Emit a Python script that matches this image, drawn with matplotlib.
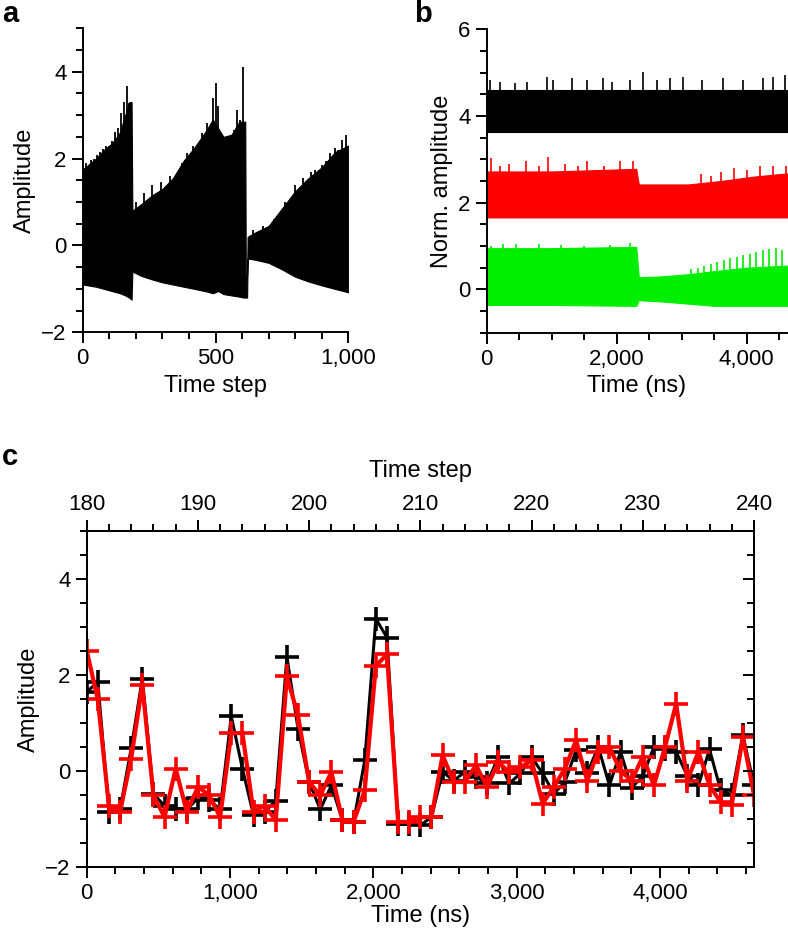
import numpy as np
import matplotlib
matplotlib.use('Agg')
import matplotlib.pyplot as plt
from matplotlib.ticker import MultipleLocator, FuncFormatter

plt.rcParams['font.family'] = ['Liberation Sans', 'DejaVu Sans']
plt.rcParams['font.size'] = 16

# ---- panel a: envelope of the time-step signal
a_steps = [0, 20, 50, 80, 110, 140, 160, 175, 184,
           187, 220, 260, 300, 340, 380, 420, 460, 490, 510, 530, 560, 590, 605, 612,
           614, 619,
           621, 650, 700, 750, 800, 850, 900, 950, 1000]
a_upper = [1.75, 1.85, 2.0, 2.2, 2.35, 2.6, 3.0, 3.3, 3.3,
           0.8, 0.95, 1.15, 1.3, 1.55, 1.95, 2.25, 2.6, 2.9, 2.7, 2.5, 2.55, 2.85, 2.85, 2.85,
           -0.7, -0.7,
           0.2, 0.3, 0.45, 0.85, 1.25, 1.55, 1.8, 2.15, 2.3]
a_lower = [-0.9, -0.92, -0.95, -1.0, -1.05, -1.1, -1.15, -1.2, -1.25,
           -0.6, -0.7, -0.78, -0.85, -0.9, -0.95, -1.0, -1.05, -1.1, -1.05, -1.12, -1.15, -1.18, -1.2, -1.2,
           -1.2, -1.2,
           -0.3, -0.33, -0.4, -0.55, -0.72, -0.83, -0.92, -1.0, -1.08]
a_spike_steps = [0, 12, 30, 42, 53, 66, 78, 88, 100, 112, 122, 133, 143, 155, 166, 176, 185,
                 200, 230, 262, 295, 330, 354, 372, 391, 417, 448, 467, 492, 502, 511, 540, 570, 582, 592, 605,
                 640, 680, 720, 760, 800, 830, 860, 875, 900, 915, 931, 950, 962, 975, 991, 1000]
a_spike_vals = [1.78, 1.9, 1.97, 2.0, 2.08, 2.15, 2.22, 2.28, 2.3, 2.4, 2.62, 2.7, 3.04, 3.3, 3.67, 3.27, 1.43,
                1.0, 1.2, 1.4, 1.45, 1.6, 1.66, 1.9, 2.12, 2.28, 2.58, 2.81, 3.39, 3.73, 3.2, 2.45, 2.65, 3.12, 2.89, 4.11,
                0.35, 0.45, 0.6, 1.0, 1.4, 1.55, 1.7, 1.74, 1.85, 1.95, 2.12, 2.24, 2.2, 2.43, 2.54, 2.28]

# ---- panel b: normalised amplitudes (envelopes, ns)
b_black_t = [0, 4650]
b_black_up = [4.6, 4.6]
b_black_lo = [3.62, 3.62]
b_black_spike_t = [51, 205, 436, 615, 923, 1025, 1307, 1538, 1794, 1923, 2205, 2410, 2615,
                   2820, 3025, 3307, 3640, 3948, 4256, 4410, 4590]
b_black_spike_v = [4.83, 4.79, 4.75, 4.79, 4.91, 4.83, 4.87, 4.83, 4.87, 4.79, 4.83, 5.02, 4.83,
                   4.87, 4.91, 4.83, 4.87, 4.83, 4.87, 4.91, 4.95]

b_red_t = [0, 1000, 2300, 2340, 3100, 3600, 4100, 4650]
b_red_up = [2.72, 2.72, 2.78, 2.42, 2.42, 2.5, 2.6, 2.68]
b_red_lo = [1.66, 1.66, 1.66, 1.66, 1.66, 1.66, 1.66, 1.66]
b_red_spike_t = [60, 200, 350, 600, 800, 950, 1200, 1400, 1550, 1800, 2050, 2250,
                 3300, 3450, 3600, 3800, 4000, 4200, 4400, 4600]
b_red_spike_v = [3.02, 2.85, 2.9, 2.95, 2.85, 3.05, 2.9, 2.85, 2.95, 2.85, 2.95, 2.95,
                 2.65, 2.62, 2.7, 2.8, 2.75, 2.85, 2.85, 2.85]

b_green_t = [0, 1000, 2300, 2340, 2700, 3100, 3500, 4000, 4650]
b_green_up = [0.95, 0.95, 0.98, 0.28, 0.3, 0.35, 0.42, 0.5, 0.55]
b_green_lo = [-0.36, -0.36, -0.38, -0.25, -0.28, -0.33, -0.38, -0.38, -0.38]
b_green_spike_t = [60, 250, 450, 800, 1150, 1500, 1900, 2200, 3150, 3250, 3350, 3450, 3550, 3650, 3750,
                   3850, 3950, 4050, 4150, 4250, 4350, 4450, 4550]
b_green_spike_v = [1.0, 1.05, 1.05, 1.05, 1.02, 1.0, 1.02, 1.07, 0.48, 0.5, 0.55, 0.58, 0.62, 0.68, 0.72,
                   0.75, 0.8, 0.82, 0.86, 0.9, 0.93, 0.95, 0.9]

# ---- panel c: zoom on time steps 180-240
c_steps = np.arange(180, 241)
ns_per_step = 77.6
c_black = [1.65, 1.85, -0.85, -0.8, 0.47, 1.92, -0.47, -0.73, -0.8, -0.8,
           -0.57, -0.6, -0.8, 1.14, 0.05, -0.92, -0.85, -0.62, 2.38, 0.88,
           -0.23, -0.8, -0.3, -1.03, -1.06, 0.22, 3.17, 2.78, -1.1, -1.1,
           -1.13, -0.96, -0.02, -0.2, -0.02, -0.12, -0.26, 0.29, -0.26, -0.05,
           0.29, -0.05, -0.47, -0.23, 0.43, -0.05, 0.5, -0.3, 0.4, -0.35,
           -0.1, 0.5, 0.45, 0.4, -0.1, -0.3, 0.45, -0.4, -0.5, 0.75, -0.3]
c_red = [2.51, 1.49, -0.73, -0.85, 0.26, 1.79, -0.51, -0.96, 0.05, -0.85,
         -0.33, -0.5, -0.96, 0.79, 0.79, -0.85, -0.72, -1.03, 1.97, 1.16,
         -0.23, -0.51, -0.02, -1.03, -1.06, -0.4, 2.19, 2.43, -1.06, -1.06,
         -0.96, -0.96, 0.33, -0.23, -0.23, 0.12, -0.33, 0.18, -0.02, 0.08,
         0.22, -0.68, -0.33, 0.05, 0.64, -0.2, 0.4, 0.5, 0.0, -0.2,
         0.3, -0.3, 0.5, 1.4, -0.2, 0.4, -0.3, -0.65, -0.7, 0.7, -0.5]

W, H = 788, 949
fig = plt.figure(figsize=(W / 100, H / 100), dpi=100)


def box(l, t, r, b):
    return [l / W, 1 - b / H, (r - l) / W, (b - t) / H]


def style(ax, direction='out'):
    for s in ax.spines.values():
        s.set_linewidth(1.4)
    ax.tick_params(which='major', length=8, width=1.4, direction=direction, labelsize=16)
    ax.tick_params(which='minor', length=5, width=1.4, direction=direction)


comma = FuncFormatter(lambda v, p: '{:,.0f}'.format(v).replace('-', '\u2212'))

# panel a
ax_a = fig.add_axes(box(82.7, 28.3, 348.3, 332.3))
ax_a.fill_between(a_steps, a_lower, a_upper, color='black', lw=0.8)
ax_a.vlines(a_spike_steps, np.interp(a_spike_steps, a_steps, a_upper) - 0.3, a_spike_vals,
            color='black', lw=1.3)
ax_a.set_xlim(0, 1000)
ax_a.set_ylim(-2, 5)
ax_a.spines['top'].set_visible(False)
ax_a.spines['right'].set_visible(False)
ax_a.xaxis.set_major_locator(MultipleLocator(500))
ax_a.xaxis.set_minor_locator(MultipleLocator(100))
ax_a.yaxis.set_major_locator(MultipleLocator(2))
ax_a.yaxis.set_minor_locator(MultipleLocator(0.5))
ax_a.xaxis.set_major_formatter(comma)
ax_a.yaxis.set_major_formatter(comma)
style(ax_a)
ax_a.set_xlabel('Time step', fontsize=17)
ax_a.set_ylabel('Amplitude', fontsize=17)

# panel b
ax_b = fig.add_axes(box(486.7, 29.3, 787.0, 332.7))
for t, up, lo, st, sv, col in [
        (b_black_t, b_black_up, b_black_lo, b_black_spike_t, b_black_spike_v, 'black'),
        (b_red_t, b_red_up, b_red_lo, b_red_spike_t, b_red_spike_v, '#ff0000'),
        (b_green_t, b_green_up, b_green_lo, b_green_spike_t, b_green_spike_v, '#00ee00')]:
    ax_b.fill_between(t, lo, up, color=col, lw=0.8)
    ax_b.vlines(st, np.interp(st, t, up) - 0.2, sv, color=col, lw=1.2)
ax_b.set_xlim(0, 4620)
ax_b.set_ylim(-1, 6)
ax_b.spines['top'].set_visible(False)
ax_b.spines['right'].set_visible(False)
ax_b.xaxis.set_major_locator(MultipleLocator(2000))
ax_b.xaxis.set_minor_locator(MultipleLocator(500))
ax_b.yaxis.set_major_locator(MultipleLocator(2))
ax_b.yaxis.set_minor_locator(MultipleLocator(0.5))
ax_b.xaxis.set_major_formatter(comma)
ax_b.yaxis.set_major_formatter(comma)
style(ax_b)
ax_b.set_xlabel('Time (ns)', fontsize=17)
ax_b.set_ylabel('Norm. amplitude', fontsize=17)

# panel c: data in ns on the bottom axis, time step on the top axis
c_t = (c_steps - 180) * ns_per_step
ax_c = fig.add_axes(box(86.7, 531, 754, 867))
ax_c.plot(c_t, c_black, color='black', lw=2.2, marker='+', ms=17, mew=2.6)
ax_c.plot(c_t, c_red, color='#ff0000', lw=3.0, marker='+', ms=17, mew=2.6)
ax_c.set_xlim(0, 60 * ns_per_step)
ax_c.set_ylim(-2, 5)
ax_c.xaxis.set_major_locator(MultipleLocator(1000))
ax_c.xaxis.set_minor_locator(MultipleLocator(200))
ax_c.yaxis.set_major_locator(MultipleLocator(2))
ax_c.yaxis.set_minor_locator(MultipleLocator(0.5))
ax_c.xaxis.set_major_formatter(comma)
ax_c.yaxis.set_major_formatter(comma)
style(ax_c)
ax_c.set_xlabel('Time (ns)', fontsize=17, labelpad=1)
ax_c.set_ylabel('Amplitude', fontsize=17)

ax_top = ax_c.twiny()
ax_top.set_xlim(180, 240)
ax_top.xaxis.set_major_locator(MultipleLocator(10))
ax_top.xaxis.set_minor_locator(MultipleLocator(2))
style(ax_top)
ax_top.set_xlabel('Time step', fontsize=17, labelpad=12)

ax_right = ax_c.twinx()
ax_right.set_ylim(-2, 5)
ax_right.yaxis.set_major_locator(MultipleLocator(2))
ax_right.yaxis.set_minor_locator(MultipleLocator(0.5))
style(ax_right, direction='in')
ax_right.tick_params(labelright=False)

fig.text(2 / W, 1 - 22 / H, 'a', fontsize=21, fontweight='bold')
fig.text(414 / W, 1 - 22 / H, 'b', fontsize=21, fontweight='bold')
fig.text(2 / W, 1 - 465 / H, 'c', fontsize=21, fontweight='bold')

fig.savefig('out.png', dpi=100)
